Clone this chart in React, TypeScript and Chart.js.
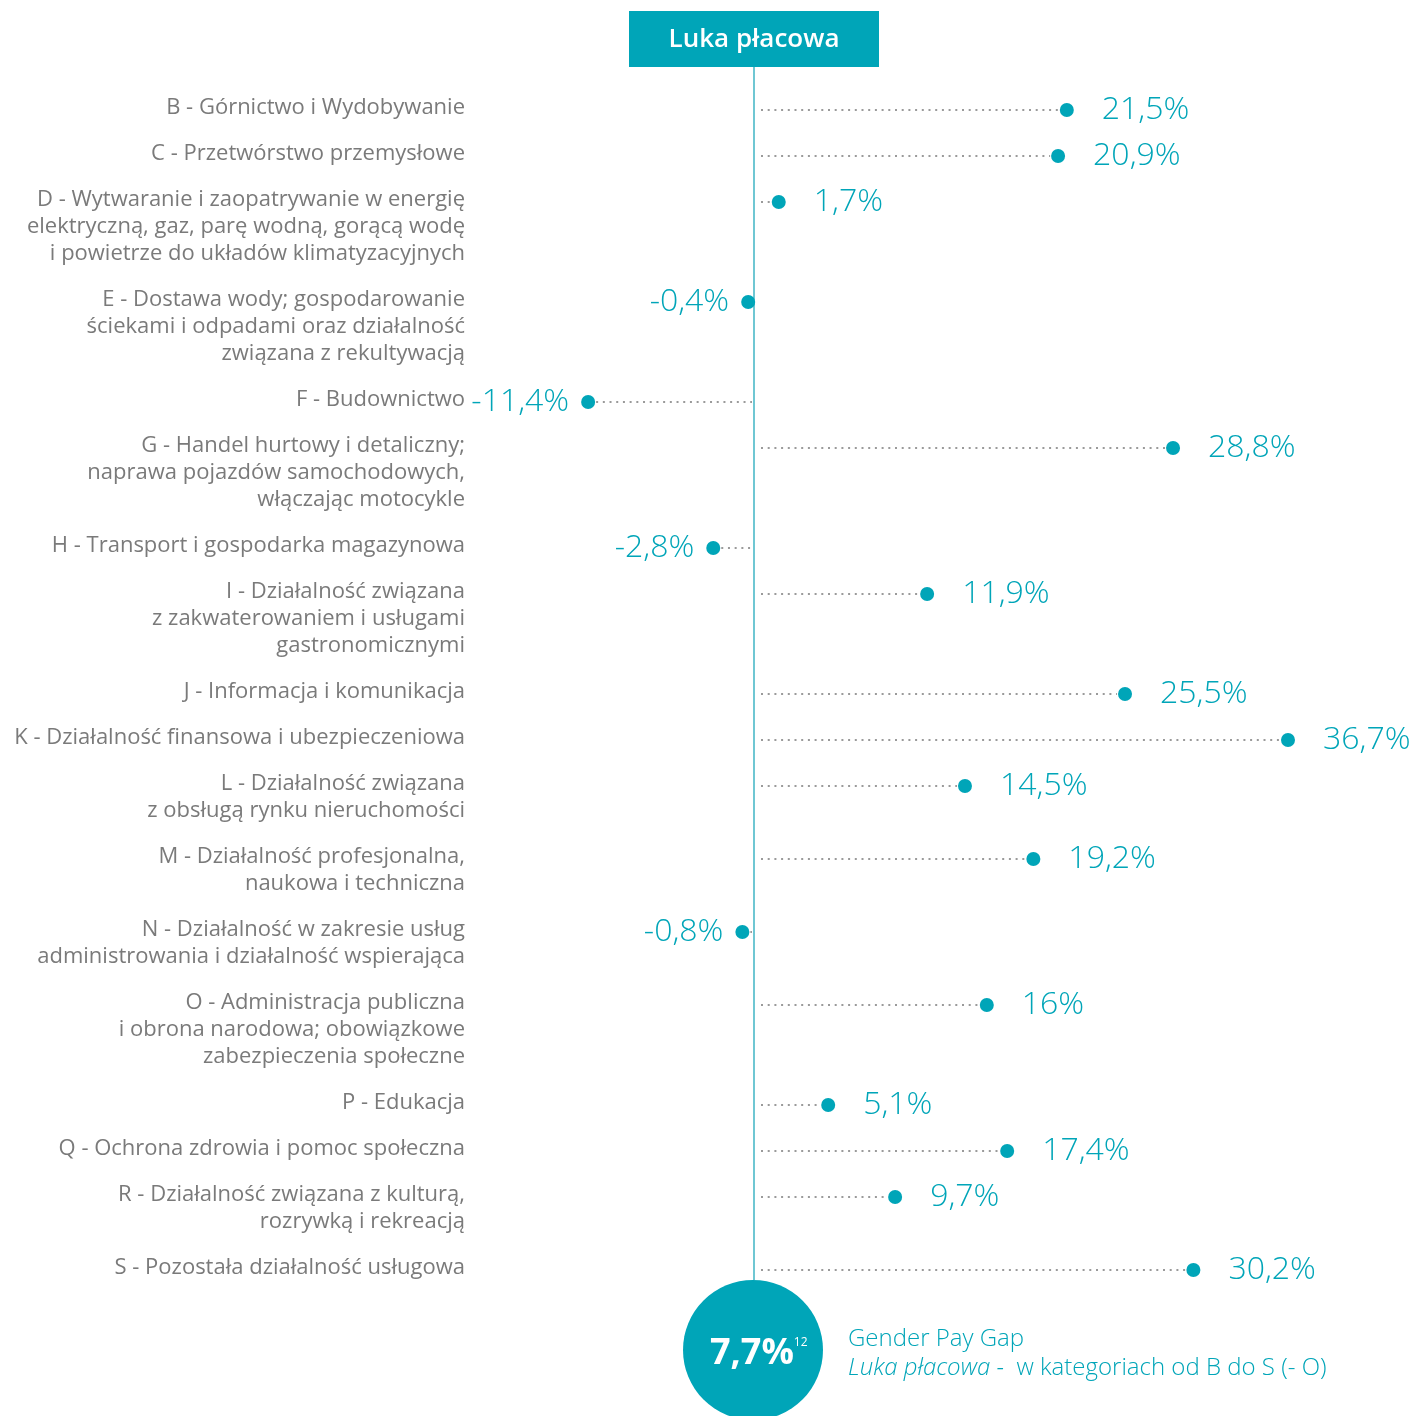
import React, { useEffect, useRef } from "react";
import { Chart, registerables } from "chart.js";

Chart.register(...registerables);

const categoryLabels: string[][] = [
  ["B - Górnictwo i Wydobywanie"],
  ["C - Przetwórstwo przemysłowe"],
  ["D - Wytwaranie i zaopatrywanie w energię", "elektryczną, gaz, parę wodną, gorącą wodę", "i powietrze do układów klimatyzacyjnych"],
  ["E - Dostawa wody; gospodarowanie", "ściekami i odpadami oraz działalność", "związana z rekultywacją"],
  ["F - Budownictwo"],
  ["G - Handel hurtowy i detaliczny;", "naprawa pojazdów samochodowych,", "włączając motocykle"],
  ["H - Transport i gospodarka magazynowa"],
  ["I - Działalność związana", "z zakwaterowaniem i usługami", "gastronomicznymi"],
  ["J - Informacja i komunikacja"],
  ["K - Działalność finansowa i ubezpieczeniowa"],
  ["L - Działalność związana", "z obsługą rynku nieruchomości"],
  ["M - Działalność profesjonalna,", "naukowa i techniczna"],
  ["N - Działalność w zakresie usług", "administrowania i działalność wspierająca"],
  ["O - Administracja publiczna", "i obrona narodowa; obowiązkowe", "zabezpieczenia społeczne"],
  ["P - Edukacja"],
  ["Q - Ochrona zdrowia i pomoc społeczna"],
  ["R - Działalność związana z kulturą,", "rozrywką i rekreacją"],
  ["S - Pozostała działalność usługowa"],
];

const gapValues: number[] = [21.5, 20.9, 1.7, -0.4, -11.4, 28.8, -2.8, 11.9, 25.5, 36.7, 14.5, 19.2, -0.8, 16, 5.1, 17.4, 9.7, 30.2];

const headerTitle = "Luka płacowa";
const totalValue = "7,7%";
const totalNote = "12";
const footerLine1 = "Gender Pay Gap";
const footerItalic = "Luka płacowa -";
const footerRest = "  w kategoriach od B do S (- O)";

const TEAL = "#00a5b8";
const LINE_TEAL = "#3fb4c4";
const GRAY_TEXT = "#7a7a7a";
const DOT_GRAY = "#9a9a9a";
const FONT = "'Open Sans', 'Noto Sans', sans-serif";

const LINE_H = 27;
const ROW_GAP = 19;

// row positions derived from the number of label lines
const rowPositions: number[] = (() => {
  const out: number[] = [];
  let acc = 0;
  categoryLabels.forEach((lines) => {
    out.push(acc);
    acc += lines.length * LINE_H + ROW_GAP;
  });
  return out;
})();

const fmt = (v: number) => String(v).replace(".", ",") + "%";

const decorPlugin = {
  id: "decor",
  beforeDatasetsDraw(chart: any) {
    const { ctx } = chart;
    const xs = chart.scales.x;
    const x0 = xs.getPixelForValue(0);
    const meta = chart.getDatasetMeta(0);
    ctx.save();
    const circleCy = 1350;
    const circleR = 70;
    ctx.strokeStyle = LINE_TEAL;
    ctx.lineWidth = 1.5;
    ctx.beginPath();
    ctx.moveTo(x0, 67);
    ctx.lineTo(x0, circleCy - circleR);
    ctx.stroke();
    ctx.strokeStyle = DOT_GRAY;
    ctx.lineWidth = 2;
    ctx.setLineDash([2, 4.7]);
    meta.data.forEach((pt: any, i: number) => {
      const v = gapValues[i];
      const y = pt.y;
      ctx.beginPath();
      if (v > 0) {
        const start = x0 + 7;
        const end = pt.x - 8;
        if (end > start) {
          ctx.moveTo(start, y);
          ctx.lineTo(end, y);
        }
      } else {
        const start = pt.x + 8;
        const end = x0 - 2;
        if (end > start) {
          ctx.moveTo(start, y);
          ctx.lineTo(end, y);
        }
      }
      ctx.stroke();
    });
    ctx.setLineDash([]);
    ctx.restore();
  },
  afterDatasetsDraw(chart: any) {
    const { ctx } = chart;
    const xs = chart.scales.x;
    const x0 = xs.getPixelForValue(0);
    const meta = chart.getDatasetMeta(0);
    ctx.save();
    ctx.fillStyle = GRAY_TEXT;
    ctx.font = `22px ${FONT}`;
    ctx.textAlign = "right";
    ctx.textBaseline = "middle";
    meta.data.forEach((pt: any, i: number) => {
      categoryLabels[i].forEach((line, j) => {
        ctx.fillText(line, 465, pt.y - 2 + j * LINE_H);
      });
    });
    ctx.fillStyle = TEAL;
    ctx.font = `300 32px ${FONT}`;
    meta.data.forEach((pt: any, i: number) => {
      const v = gapValues[i];
      if (v >= 0) {
        ctx.textAlign = "left";
        ctx.fillText(fmt(v), pt.x + 35, pt.y);
      } else {
        ctx.textAlign = "right";
        ctx.fillText(fmt(v), pt.x - 19, pt.y);
      }
    });
    ctx.fillStyle = TEAL;
    ctx.fillRect(x0 - 125, 11, 250, 56);
    ctx.fillStyle = "#ffffff";
    ctx.font = `600 26px ${FONT}`;
    ctx.textAlign = "center";
    ctx.fillText(headerTitle, x0, 40);
    ctx.fillStyle = TEAL;
    ctx.beginPath();
    ctx.arc(x0 - 1, 1350, 70, 0, Math.PI * 2);
    ctx.fill();
    ctx.fillStyle = "#ffffff";
    ctx.font = `bold 36px ${FONT}`;
    ctx.textAlign = "left";
    ctx.fillText(totalValue, 710, 1354);
    const w = ctx.measureText(totalValue).width;
    ctx.font = `12px ${FONT}`;
    ctx.fillText(totalNote, 710 + w, 1343);
    ctx.fillStyle = TEAL;
    ctx.font = `300 24px ${FONT}`;
    ctx.fillText(footerLine1, 848, 1339);
    ctx.font = `italic 300 24px ${FONT}`;
    ctx.fillText(footerItalic, 848, 1368);
    const wi = ctx.measureText(footerItalic).width;
    ctx.font = `300 24px ${FONT}`;
    ctx.fillText(footerRest, 848 + wi, 1368);
    ctx.restore();
  },
};

export default function App() {
  const canvasRef = useRef<HTMLCanvasElement | null>(null);

  useEffect(() => {
    document.body.style.margin = "0";
    document.body.style.overflow = "hidden";
    const canvas = canvasRef.current;
    if (!canvas) return;
    const pxPerUnit = 14.55;
    const zeroPx = 754;
    const W = 1414;
    const H = 1416;
    const firstRowPx = 110;
    const chart = new Chart(canvas, {
      type: "scatter",
      data: {
        datasets: [
          {
            data: gapValues.map((v, i) => ({ x: v, y: rowPositions[i] })),
            pointRadius: 7,
            pointHoverRadius: 7,
            backgroundColor: TEAL,
            borderWidth: 0,
          },
        ],
      },
      options: {
        responsive: false,
        maintainAspectRatio: false,
        animation: false,
        layout: { padding: 0, autoPadding: false },
        plugins: { legend: { display: false }, tooltip: { enabled: false } },
        scales: {
          x: {
            type: "linear",
            display: false,
            min: -zeroPx / pxPerUnit,
            max: (W - zeroPx) / pxPerUnit,
          },
          y: {
            type: "linear",
            display: false,
            reverse: true,
            min: -firstRowPx,
            max: H - firstRowPx,
          },
        },
      },
      plugins: [decorPlugin],
    });
    return () => chart.destroy();
  }, []);

  return (
    <div style={{ position: "absolute", left: 0, top: 0, width: 1414, height: 1416, background: "#fff" }}>
      <canvas ref={canvasRef} width={1414} height={1416} style={{ display: "block" }} />
    </div>
  );
}
